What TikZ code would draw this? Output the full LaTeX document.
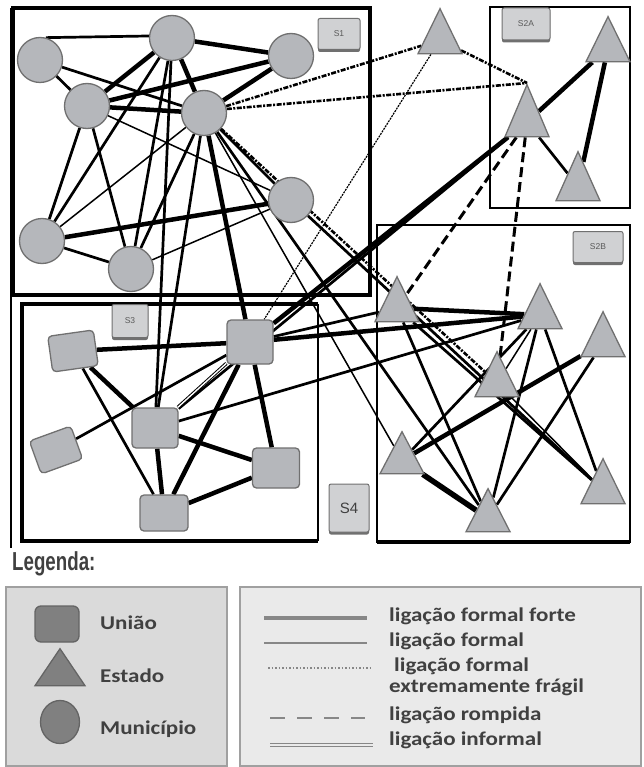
\documentclass[tikz,border=0pt]{standalone}
\usepackage{fontspec}
\usetikzlibrary{shapes.geometric,backgrounds,shadows}
\newfontfamily\legfont{Carlito}[FakeStretch=1.18]
\newfontfamily\titfont{Liberation Sans}[FakeStretch=0.72]
\newfontfamily\rotfont{Liberation Sans}

\definecolor{cinzano}{RGB}{181,183,187}
\definecolor{cinzabordo}{RGB}{112,112,112}
\definecolor{cinzarot}{RGB}{208,209,211}
\definecolor{cinzatexto}{RGB}{90,90,90}
\definecolor{tracopreto}{RGB}{22,22,22}
\definecolor{cinzaleg}{RGB}{128,128,128}
\definecolor{cinzalegb}{RGB}{100,100,100}
\definecolor{caixaesq}{RGB}{218,218,218}
\definecolor{caixadir}{RGB}{234,234,234}
\definecolor{caixaborda}{RGB}{160,160,160}
\definecolor{cinzalinha}{RGB}{135,135,135}
\definecolor{legcor}{RGB}{64,64,64}

\begin{document}
\begin{tikzpicture}
  [x=1pt,y=-1pt,
   muni/.style={circle,fill=cinzano,draw=cinzabordo,line width=1.3pt,minimum size=45pt,inner sep=0pt},
   estado/.style={isosceles triangle,isosceles triangle stretches,shape border rotate=90,anchor=apex,
     fill=cinzano,draw=cinzabordo,line width=1.3pt,minimum width=44pt,minimum height=45pt,inner sep=0pt},
   uniao/.style={rectangle,rounded corners=4pt,fill=cinzano,draw=cinzabordo,line width=1.3pt,
     minimum width=46pt,minimum height=40pt,inner sep=0pt},
   rotulo/.style={rectangle,rounded corners=2pt,fill=cinzarot,draw=cinzabordo,line width=1pt,inner sep=0pt,
     font=\rotfont\fontsize{8.5}{8.5}\selectfont,text=cinzatexto,
     drop shadow={shadow xshift=0pt,shadow yshift=-2.5pt,fill=cinzabordo,opacity=1}},
   legtexto/.style={anchor=base west,inner sep=0pt,font=\legfont\bfseries\fontsize{19.5}{20}\selectfont,text=legcor},
   lforte/.style={line width=4.5pt},
   lformal/.style={line width=2.7pt},
   lfino/.style={line width=1.5pt},
   lfragil/.style={line width=2.6pt,dash pattern=on 5pt off 1.5pt on 2pt off 1.5pt},
   lfragilfino/.style={line width=1.2pt,dash pattern=on 2pt off 1pt},
   lrompida/.style={line width=3pt,dash pattern=on 10pt off 5pt},
   linformal/.style={double=white,double distance=1.4pt,line width=1pt},
   legforte/.style={line width=4pt,cinzalinha},
   legformal/.style={line width=2pt,cinzalinha},
   legfragil/.style={line width=1.5pt,cinzalinha,dash pattern=on 1.5pt off 2pt},
   legrompida/.style={line width=2.5pt,cinzalinha,dash pattern=on 15pt off 12pt},
   leginformal/.style={line width=1.3pt,cinzalinha,double=caixadir,double distance=1.5pt}]
  \useasboundingbox (0,0) rectangle (643,767);

  % municipios
  \node[muni] (m1) at (40,60) {};
  \node[muni] (m2) at (172,38) {};
  \node[muni] (m3) at (291,56) {};
  \node[muni] (m4) at (87,106) {};
  \node[muni] (m5) at (204,113) {};
  \node[muni] (m6) at (291,200) {};
  \node[muni] (m7) at (42,241) {};
  \node[muni] (m8) at (131,269) {};
  % estados
  \node[estado] (e1) at (440,7) {};
  \node[estado,minimum height=52pt] (e2) at (527,83) {};
  \node[estado] (e3) at (608,15) {};
  \node[estado,minimum height=49pt] (e4) at (578,150) {};
  \node[estado] (e5) at (397,275) {};
  \node[estado] (e6) at (540,282) {};
  \node[estado] (e7) at (603,310) {};
  \node[estado] (e8) at (497,350) {};
  \node[estado,minimum height=42pt] (e9) at (402,430) {};
  \node[estado,minimum height=43pt] (e10) at (488,487) {};
  \node[estado] (e11) at (603,457) {};
  % uniao
  \node[uniao,rotate=8,minimum height=36pt] (u1) at (73,351) {};
  \node[uniao,minimum height=44pt] (u2) at (250,342) {};
  \node[uniao] (u3) at (155,428) {};
  \node[uniao,rotate=20,minimum width=44pt,minimum height=35pt] (u4) at (56,450) {};
  \node[uniao,minimum width=47pt] (u5) at (276,468) {};
  \node[uniao,minimum width=48pt,minimum height=36pt] (u6) at (164,513) {};

  % rotulos dos subsistemas
  \node[rotulo,minimum width=42pt,minimum height=31pt] (s1) at (339,34) {S1};
  \node[rotulo,minimum width=48pt,minimum height=32pt] (s2a) at (526,24) {S2A};
  \node[rotulo,minimum width=50pt,minimum height=31pt] (s2b) at (598,247) {S2B};
  \node[rotulo,minimum width=36pt,minimum height=33pt] (s3) at (130,321) {S3};
  \node[rotulo,minimum width=40pt,minimum height=48pt,font=\rotfont\fontsize{15}{15}\selectfont,text=legcor] (s4) at (349,508) {S4};

  \begin{scope}[on background layer,color=tracopreto]
    % quadros
    \draw[line width=1.3pt] (11,8) -- (11,548);
    \draw[line width=4pt] (13,8) rectangle (370,295);
    \draw[line width=2pt] (490,7) rectangle (630,208);
    \draw[line width=2.5pt] (377,225) rectangle (630,542);
    \draw[line width=3.5pt] (377,542) -- (630,542);
    \draw[line width=3.5pt] (318,304) -- (22,304) -- (22,541) -- (318,541);
    \draw[line width=2pt] (318,304) -- (318,541);
    % ligacoes
    \foreach \from/\to in {m2/m3,m2/m4,m2/m5,m3/m5,m3/m4,m4/m5,m7/m6,m5/u2,e2/e3,e3/e4,e2/u2,
        u1/u2,u1/u3,u3/u6,u2/u6,u3/u5,u6/u5,u2/u5,u2/e6,e5/e6,e7/e9}
      \draw[lforte] (\from) -- (\to);
    \draw[lforte,line width=5.5pt] (e9) -- (e10);
    \foreach \from/\to in {m1.75/m2.175,m1/m4,m1/m5,m4/m7,m4/m8,m2/m7,m2/m8,m5/m8,m5/m6,m7/m8,
        m2/u3,m5/u3,m5/e10,m6/e11,e2/e4,e2/u3,u1/u6,u4/u2,u2/e5,u3/e6,
        e5/e10,e5/e11,e6/e10,e6/e11,e6/e9,e7/e10}
      \draw[lformal] (\from) -- (\to);
    \foreach \from/\to in {m4/m6,m5/m7,m8/m6,m5/e9,e6/e8,e8/e11}
      \draw[lfino] (\from) -- (\to);
    \foreach \from/\to in {m5/e1,m5.10/e2.apex,e1/e2.apex,m5/e8}
      \draw[lfragil] (\from) -- (\to);
    \draw[lfragilfino] (e1) -- (u2);
    \foreach \from/\to in {e2/e5,e2/e8}
      \draw[lrompida] (\from) -- (\to);
    \draw[linformal] (u3) -- (u2);
  \end{scope}

  % legenda
  \node[anchor=base west,inner sep=0pt,font=\titfont\bfseries\fontsize{26}{27}\selectfont,text=legcor] (legenda) at (12,570) {Legenda:};
  \draw[fill=caixaesq,draw=caixaborda,line width=1.5pt] (6,587) rectangle (227,766);
  \draw[fill=caixadir,draw=caixaborda,line width=1.5pt] (240,587) rectangle (641,766);
  \node[uniao,fill=cinzaleg,draw=cinzalegb,minimum width=44pt,minimum height=36pt,rounded corners=6pt] (luniao) at (57,624) {};
  \node[estado,fill=cinzaleg,draw=cinzalegb,minimum width=50pt,minimum height=37pt] (lestado) at (60,647) {};
  \node[muni,ellipse,fill=cinzaleg,draw=cinzalegb,minimum width=39pt,minimum height=43pt] (lmuni) at (60,722) {};
  \node[legtexto] (tuniao) at (100,629) {União};
  \node[legtexto] (testado) at (100,682) {Estado};
  \node[legtexto] (tmuni) at (100,734) {Município};
  \foreach \ya/\xa/\xb/\st in {618/264/367/legforte,643/264/367/legformal,668/268/373/legfragil,
      718/270/365/legrompida,745/270/373/leginformal}
    \draw[\st] (\xa,\ya) -- (\xb,\ya);
  \node[legtexto] (tforte) at (389,621) {ligação formal forte};
  \node[legtexto] (tformal) at (389,646) {ligação formal};
  \node[legtexto] (tfragil) at (394,671) {ligação formal};
  \node[legtexto] (tfragilb) at (389,692) {extremamente frágil};
  \node[legtexto] (trompida) at (389,720) {ligação rompida};
  \node[legtexto] (tinformal) at (389,745) {ligação informal};
\end{tikzpicture}
\end{document}
